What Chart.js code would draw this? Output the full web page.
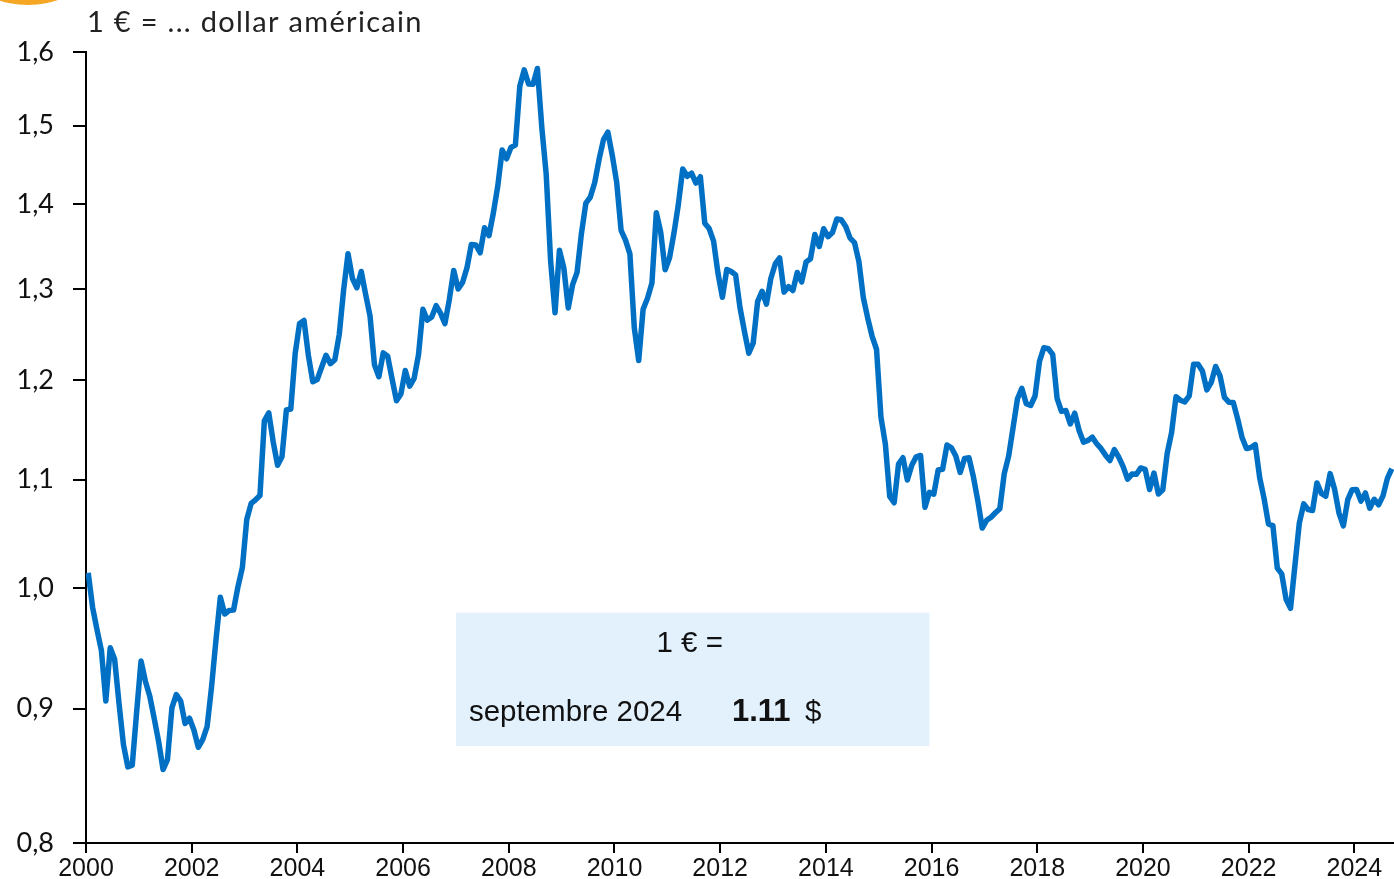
<!DOCTYPE html>
<html>
<head>
<meta charset="utf-8">
<script src="https://cdn.jsdelivr.net/npm/chart.js@4"></script>
<style>
  html, body { margin: 0; padding: 0; background: #fff; }
  #wrap { position: relative; width: 1394px; height: 879px; }
</style>
</head>
<body>
<div id="wrap"><canvas id="c"></canvas></div>
<script>
// Monthly average exchange rate, 1 EUR in USD, Jan 2000 – Sep 2024
const startYear = 2000;
const rates = [
  1.0137, 0.9834, 0.9643, 0.9470, 0.9060, 0.9492, 0.9397, 0.9041, 0.8721, 0.8552, 0.8564, 0.8973,
  0.9383, 0.9217, 0.9095, 0.8920, 0.8742, 0.8532, 0.8607, 0.9005, 0.9111, 0.9059, 0.8883, 0.8924,
  0.8833, 0.8700, 0.8758, 0.8858, 0.9170, 0.9554, 0.9922, 0.9778, 0.9808, 0.9811, 1.0014, 1.0183,
  1.0622, 1.0773, 1.0807, 1.0848, 1.1582, 1.1663, 1.1372, 1.1139, 1.1222, 1.1692, 1.1702, 1.2286,
  1.2613, 1.2646, 1.2262, 1.1985, 1.2007, 1.2138, 1.2266, 1.2176, 1.2218, 1.2490, 1.2991, 1.3408,
  1.3119, 1.3014, 1.3201, 1.2938, 1.2694, 1.2165, 1.2037, 1.2292, 1.2256, 1.2015, 1.1786, 1.1856,
  1.2103, 1.1938, 1.2020, 1.2271, 1.2770, 1.2650, 1.2684, 1.2811, 1.2727, 1.2611, 1.2881, 1.3213,
  1.2999, 1.3074, 1.3242, 1.3516, 1.3511, 1.3419, 1.3716, 1.3622, 1.3896, 1.4227, 1.4684, 1.4570,
  1.4718, 1.4748, 1.5527, 1.5751, 1.5557, 1.5553, 1.5770, 1.4975, 1.4370, 1.3322, 1.2732, 1.3449,
  1.3239, 1.2785, 1.3050, 1.3190, 1.3650, 1.4016, 1.4088, 1.4268, 1.4562, 1.4816, 1.4914, 1.4614,
  1.4272, 1.3686, 1.3569, 1.3406, 1.2565, 1.2209, 1.2770, 1.2894, 1.3067, 1.3898, 1.3661, 1.3220,
  1.3360, 1.3649, 1.3999, 1.4442, 1.4349, 1.4388, 1.4264, 1.4343, 1.3770, 1.3706, 1.3556, 1.3179,
  1.2905, 1.3224, 1.3201, 1.3162, 1.2789, 1.2526, 1.2288, 1.2400, 1.2856, 1.2974, 1.2828, 1.3119,
  1.3288, 1.3359, 1.2964, 1.3026, 1.2982, 1.3189, 1.3080, 1.3310, 1.3348, 1.3635, 1.3493, 1.3704,
  1.3610, 1.3659, 1.3823, 1.3813, 1.3732, 1.3592, 1.3539, 1.3316, 1.2901, 1.2673, 1.2472, 1.2331,
  1.1621, 1.1350, 1.0838, 1.0779, 1.1150, 1.1213, 1.0996, 1.1139, 1.1221, 1.1235, 1.0736, 1.0877,
  1.0860, 1.1093, 1.1100, 1.1339, 1.1311, 1.1229, 1.1069, 1.1206, 1.1212, 1.1026, 1.0799, 1.0543,
  1.0614, 1.0643, 1.0685, 1.0723, 1.1058, 1.1229, 1.1511, 1.1807, 1.1915, 1.1756, 1.1738, 1.1836,
  1.2200, 1.2348, 1.2336, 1.2276, 1.1812, 1.1678, 1.1686, 1.1549, 1.1659, 1.1484, 1.1367, 1.1384,
  1.1416, 1.1351, 1.1302, 1.1238, 1.1185, 1.1293, 1.1218, 1.1126, 1.1004, 1.1053, 1.1051, 1.1113,
  1.1100, 1.0905, 1.1063, 1.0862, 1.0902, 1.1255, 1.1463, 1.1828, 1.1792, 1.1775, 1.1838, 1.2170,
  1.2171, 1.2098, 1.1899, 1.1979, 1.2146, 1.2047, 1.1822, 1.1772, 1.1770, 1.1601, 1.1414, 1.1304,
  1.1314, 1.1342, 1.1019, 1.0819, 1.0579, 1.0566, 1.0179, 1.0128, 0.9904, 0.9826, 1.0201, 1.0589,
  1.0769, 1.0715, 1.0706, 1.0968, 1.0868, 1.0840, 1.1058, 1.0909, 1.0684, 1.0563, 1.0808, 1.0903,
  1.0905, 1.0795, 1.0872, 1.0728, 1.0812, 1.0759, 1.0844, 1.1012, 1.1106
];
const xTicks = [2000, 2002, 2004, 2006, 2008, 2010, 2012, 2014, 2016, 2018, 2020, 2022, 2024];
const yTicks = [0.8, 0.9, 1.0, 1.1, 1.2, 1.3, 1.4, 1.5, 1.6];
const titleText = '1 € = ... dollar américain';
const boxTitle = '1 € =';
const boxMonth = 'septembre 2024';
const boxValue = '1.11';
const boxUnit = '$';

// points placed at mid-month
const points = rates.map((v, i) => ({ x: startYear + (i + 0.5) / 12, y: v }));

const decor = {
  id: 'decor',
  beforeDraw(chart) {
    const { ctx } = chart;
    ctx.save();
    // partial orange logo circle at top-left
    ctx.fillStyle = '#F5A623';
    ctx.beginPath();
    ctx.arc(28, -88, 93, 0, Math.PI * 2);
    ctx.fill();
    // info box
    const xs = chart.scales.x, ys = chart.scales.y;
    const l = xs.getPixelForValue(2007.0), r = xs.getPixelForValue(2015.96);
    const t = ys.getPixelForValue(0.979), b = ys.getPixelForValue(0.871);
    ctx.fillStyle = '#E3F1FC';
    ctx.fillRect(l, t, r - l, b - t);
    ctx.fillStyle = '#111';
    ctx.textBaseline = 'alphabetic';
    const reg = '29.5px "Liberation Sans", Arial, sans-serif';
    ctx.font = reg;
    ctx.textAlign = 'center';
    ctx.fillText(boxTitle, (l + r) / 2 - 3, t + 39);
    ctx.textAlign = 'left';
    ctx.fillText(boxMonth, l + 13, t + 108);
    ctx.font = 'bold 31px "Liberation Sans", Arial, sans-serif';
    ctx.fillText(boxValue, l + 276, t + 108);
    ctx.font = reg;
    ctx.fillText(boxUnit, l + 349, t + 108);
    // title
    ctx.fillStyle = '#222';
    ctx.font = '29px Lato, "Noto Sans", sans-serif';
    if ('letterSpacing' in ctx) ctx.letterSpacing = '1.3px';
    ctx.fillText(titleText, 87, 32);
    ctx.restore();
  }
};

new Chart(document.getElementById('c'), {
  type: 'line',
  data: {
    datasets: [{
      data: points,
      borderColor: '#0070C4',
      borderWidth: 5.5,
      pointRadius: 0,
      tension: 0,
      borderJoinStyle: 'round',
      borderCapStyle: 'butt',
      fill: false
    }]
  },
  options: {
    responsive: true,
    maintainAspectRatio: false,
    animation: false,
    devicePixelRatio: 1,
    layout: { padding: { top: 52, right: 0, left: 0, bottom: 0 } },
    plugins: { legend: { display: false }, tooltip: { enabled: false }, title: { display: false } },
    scales: {
      x: {
        type: 'linear',
        min: 2000,
        max: 2024.75,
        afterBuildTicks: (s) => { s.ticks = xTicks.map(v => ({ value: v })); },
        afterFit: (s) => { s.height = 36; },
        grid: { drawOnChartArea: false, drawTicks: true, tickLength: 10, color: '#000', lineWidth: 2 },
        border: { display: true, color: '#000', width: 2 },
        ticks: {
          autoSkip: false, maxRotation: 0, padding: 1, color: '#111',
          font: { family: '"Liberation Sans", Arial, sans-serif', size: 25 },
          callback: (v) => String(v)
        }
      },
      y: {
        type: 'logarithmic',
        min: 0.8,
        max: 1.6,
        afterBuildTicks: (s) => { s.ticks = yTicks.map(v => ({ value: v })); },
        afterFit: (s) => { s.width = 86; },
        grid: { drawOnChartArea: false, drawTicks: true, tickLength: 13, color: '#000', lineWidth: 2 },
        border: { display: true, color: '#000', width: 2 },
        ticks: {
          autoSkip: false, padding: 19, color: '#111',
          font: { family: 'Lato, "Noto Sans", sans-serif', size: 27 },
          callback: (v) => Number(v).toFixed(1).replace('.', ',')
        }
      }
    }
  },
  plugins: [decor]
});
</script>
</body>
</html>
